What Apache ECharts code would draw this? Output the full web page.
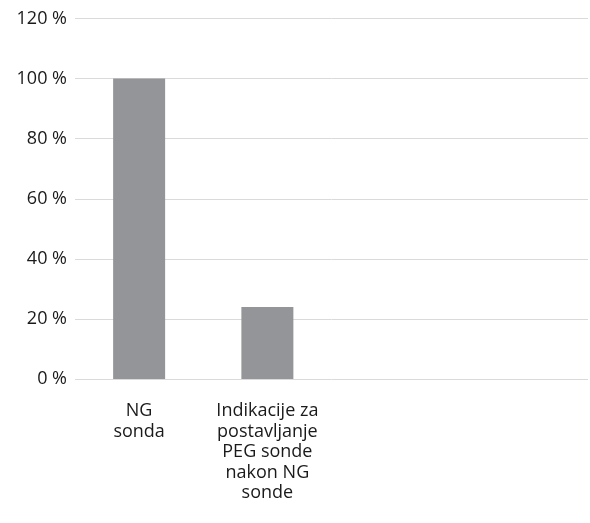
<!DOCTYPE html>
<html>
<head>
<meta charset="utf-8">
<script src="https://cdn.jsdelivr.net/npm/echarts@6/dist/echarts.min.js"></script>
<style>
  html, body { margin: 0; padding: 0; background: #ffffff; }
  #chart { width: 590px; height: 523px; }
</style>
</head>
<body>
<div id="chart"></div>
<script>
// Categories along the x axis (the last two slots are left empty)
const categories = [
  'NG\nsonda',
  'Indikacije za\npostavljanje\nPEG sonde\nnakon NG\nsonde',
  '',
  ''
];
// Share of patients, in percent
const values = [100, 24, null, null];
// Value axis range
const yMin = 0;
const yMax = 120;
const yStep = 20;

const chart = echarts.init(document.getElementById('chart'));
chart.setOption({
  animation: false,
  textStyle: { fontFamily: 'Open Sans, Lato, sans-serif' },
  grid: { left: 75, right: 2, top: 18.5, bottom: 144 },
  xAxis: {
    type: 'category',
    data: categories,
    axisLine: { show: false },
    axisTick: { show: false },
    axisLabel: {
      color: '#1a1a1a',
      fontSize: 18,
      lineHeight: 20.5,
      margin: 22,
      interval: 0
    }
  },
  yAxis: {
    type: 'value',
    min: yMin,
    max: yMax,
    interval: yStep,
    axisLine: { show: false },
    axisTick: { show: false },
    axisLabel: {
      color: '#1a1a1a',
      fontSize: 18,
      margin: 8,
      formatter: v => v + ' %'
    },
    splitLine: { lineStyle: { color: '#dadada', width: 1 } }
  },
  series: [{
    type: 'bar',
    data: values,
    barWidth: 52,
    itemStyle: { color: '#939598' }
  }]
});
</script>
</body>
</html>
